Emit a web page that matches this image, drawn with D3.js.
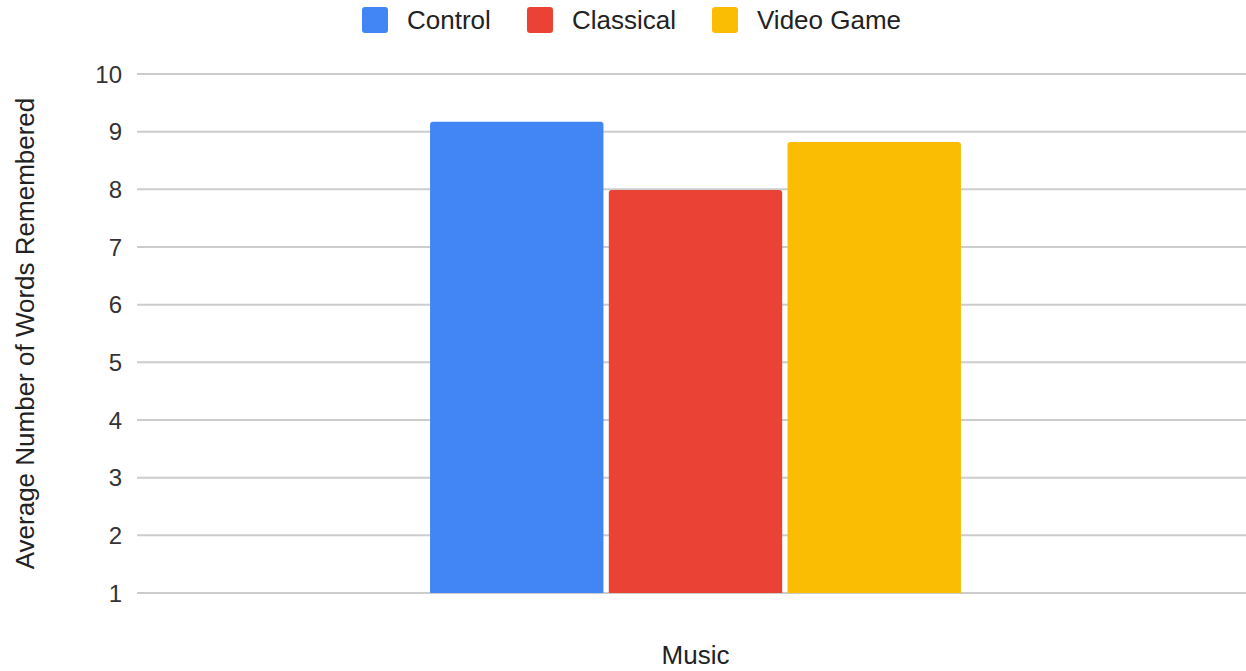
<!DOCTYPE html>
<html>
<head>
<meta charset="utf-8">
<script src="https://cdn.jsdelivr.net/npm/d3@7"></script>
<style>
  html, body { margin: 0; padding: 0; background: #fff; }
  svg { display: block; font-family: "Liberation Sans", Arial, sans-serif; }
</style>
</head>
<body>
<svg id="chart" width="1246" height="671"></svg>
<script>
const categories = ["Music"];
const series = ["Control", "Classical", "Video Game"];
const seriesColors = ["#4285f4", "#ea4335", "#fbbc04"];
const values = [[9.17, 7.99, 8.82]];
const yTicks = [1, 2, 3, 4, 5, 6, 7, 8, 9, 10];

const width = 1246, height = 671;
const margin = { left: 137, right: -8, top: 74, bottom: 78 };

const svg = d3.select("#chart");

const x0 = d3.scaleBand()
    .domain(categories)
    .range([margin.left, width - margin.right])
    .paddingInner(0)
    .paddingOuter(0.552);

const x1 = d3.scaleBand()
    .domain(series)
    .range([0, x0.bandwidth()])
    .paddingInner(0.03);

const y = d3.scaleLinear()
    .domain([1, 10])
    .range([height - margin.bottom, margin.top]);

// gridlines
svg.append("g")
    .selectAll("line")
    .data(yTicks)
    .join("line")
    .attr("x1", margin.left)
    .attr("x2", width)
    .attr("y1", d => y(d))
    .attr("y2", d => y(d))
    .attr("stroke", "#cccccc")
    .attr("stroke-width", 2);

// y tick labels
svg.append("g")
    .selectAll("text")
    .data(yTicks)
    .join("text")
    .attr("x", margin.left - 15)
    .attr("y", d => y(d))
    .attr("dy", "0.36em")
    .attr("text-anchor", "end")
    .attr("font-size", 24)
    .attr("fill", "#333")
    .text(d => d);

// bars with rounded top corners
function barPath(x, top, w, bottom, r) {
    return `M${x},${bottom}V${top + r}Q${x},${top} ${x + r},${top}` +
        `H${x + w - r}Q${x + w},${top} ${x + w},${top + r}V${bottom}Z`;
}

const rows = [];
categories.forEach((c, i) => {
    series.forEach((s, j) => rows.push({ cat: c, series: s, value: values[i][j], color: seriesColors[j] }));
});

svg.append("g")
    .selectAll("path")
    .data(rows)
    .join("path")
    .attr("d", d => barPath(x0(d.cat) + x1(d.series), y(d.value), x1.bandwidth(), y(1), 3))
    .attr("fill", d => d.color);

// x category label
svg.append("g")
    .selectAll("text")
    .data(categories)
    .join("text")
    .attr("x", d => x0(d) + x0.bandwidth() / 2)
    .attr("y", 664)
    .attr("text-anchor", "middle")
    .attr("font-size", 26)
    .attr("fill", "#222")
    .text(d => d);

// y axis title
svg.append("text")
    .attr("transform", `translate(34,${(y(1) + y(10)) / 2}) rotate(-90)`)
    .attr("text-anchor", "middle")
    .attr("font-size", 26)
    .attr("fill", "#222")
    .text("Average Number of Words Remembered");

// legend
const legendX = [362, 527, 712];
const legend = svg.append("g")
    .selectAll("g")
    .data(series)
    .join("g")
    .attr("transform", (d, i) => `translate(${legendX[i]},7)`);

legend.append("rect")
    .attr("width", 26)
    .attr("height", 26)
    .attr("rx", 3)
    .attr("fill", (d, i) => seriesColors[i]);

legend.append("text")
    .attr("x", 45)
    .attr("y", 22)
    .attr("font-size", 26)
    .attr("fill", "#222")
    .text(d => d);
</script>
</body>
</html>
